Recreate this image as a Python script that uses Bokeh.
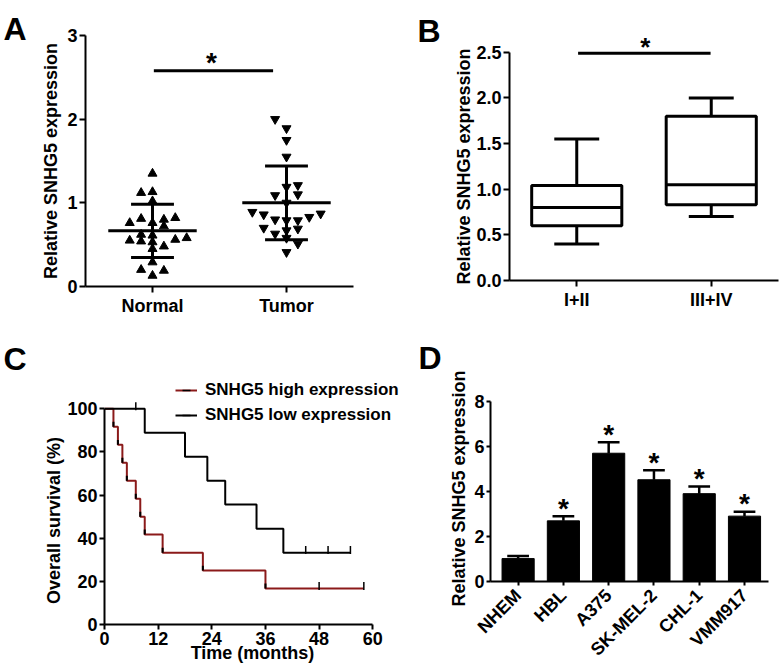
import math
from jinja2 import Template
from bokeh.plotting import figure
from bokeh.models import FixedTicker, Label, Legend, LegendItem, Range1d
from bokeh.embed import file_html
from bokeh.resources import INLINE
from bokeh.core.properties import value

FONT = "Liberation Sans"

# ---------------- Panel A data ----------------
groups_a = ["Normal", "Tumor"]
normal_vals = [1.35, 1.12, 1.13, 1.02, 0.76, 0.81, 0.76, 0.80, 0.82, 0.72, 0.55,
               0.62, 0.54, 0.61, 0.53, 0.56, 0.58, 0.45, 0.48, 0.29, 0.20, 0.13, 0.19]
normal_slot = [0, -1, 0, 0, -2, -1, 0, 1, 2, 1, -2, -1, -1, 0, 0, 2, 3, 0, 1, 0, -1, 0, 1]
tumor_vals = [2.00, 1.89, 1.75, 1.55, 1.19, 1.21, 1.09, 1.10, 1.00, 0.89, 0.86, 0.80,
              0.79, 0.79, 0.83, 0.87, 0.70, 0.67, 0.69, 0.63, 0.58, 0.51, 0.41]
tumor_slot = [-1, 0, 0, 0, 0, 1, -1, 1, 0, -3, -2, -1, 0, 1, 2, 3, -2, 0, 1, -1, 0, 1, 0]
mean_a = [0.665, 1.00]
sd_a = [0.317, 0.44]
sig_a = 2.58

# ---------------- Panel B data ----------------
groups_b = ["I+II", "III+IV"]
b_low = [0.40, 0.70]
b_q1 = [0.60, 0.83]
b_med = [0.80, 1.05]
b_q3 = [1.04, 1.80]
b_high = [1.55, 2.00]
sig_b = 2.49

# ---------------- Panel C data ----------------
t_high = [0, 2, 3, 4, 5, 7, 8, 9, 13, 22, 36, 58]
s_high = [100, 91.7, 83.3, 75, 66.7, 58.3, 50, 41.7, 33.3, 25, 16.7, 16.7]
cens_high_t = [48, 58]
cens_high_s = [16.7, 16.7]
t_low = [0, 9, 18, 23, 27, 34, 40, 55]
s_low = [100, 88.9, 77.8, 66.7, 55.6, 44.4, 33.3, 33.3]
cens_low_t = [7, 45, 50, 55]
cens_low_s = [100, 33.3, 33.3, 33.3]
legend_labels = ["SNHG5 high expression", "SNHG5 low expression"]

# ---------------- Panel D data ----------------
cells = ["NHEM", "HBL", "A375", "SK-MEL-2", "CHL-1", "VMM917"]
d_mean = [1.02, 2.70, 5.71, 4.53, 3.91, 2.91]
d_err = [0.12, 0.21, 0.49, 0.42, 0.32, 0.20]
d_sig = [False, True, True, True, True, True]

# ---------------- Panel texts ----------------
panel_letters = ["A", "B", "C", "D"]
ylabel_expr = "Relative SNHG5 expression"
ylabel_surv = "Overall survival (%)"
xlabel_time = "Time (months)"

RED = "#8b1a1a"
FS = "18px"


def base_fig(name, w, h, xr, yr, l, r, t, b):
    p = figure(name=name, width=w, height=h, x_range=xr, y_range=yr,
               min_border_left=l, min_border_right=r, min_border_top=t, min_border_bottom=b,
               output_backend="svg", toolbar_location=None)
    p.border_fill_color = None
    p.background_fill_color = None
    return p


def style(p, tick_out=6):
    for ax in p.axis:
        ax.axis_line_width = 2
        ax.axis_line_color = "black"
        ax.major_tick_line_width = 2
        ax.major_tick_out = tick_out
        ax.major_tick_in = 0
        ax.minor_tick_line_color = None
        ax.major_label_text_font = FONT
        ax.major_label_text_font_style = "bold"
        ax.major_label_text_font_size = FS
        ax.major_label_text_color = "black"
        ax.axis_label_text_font = FONT
        ax.axis_label_text_font_style = "bold"
        ax.axis_label_text_font_size = FS
        ax.axis_label_text_color = "black"
        ax.major_label_standoff = 2
    p.xgrid.visible = False
    p.ygrid.visible = False
    p.outline_line_color = None


# ================= Panel A (canvas 0,0 390x320) =================
pA = base_fig("pA", 390, 320, Range1d(-0.5, 1.5), Range1d(0, 3), 85, 37, 35, 34)
style(pA)
slot_w = 0.085
pA.scatter([0 + s * slot_w for s in normal_slot], normal_vals, marker="triangle",
           size=9, color="black")
pA.scatter([1 + s * slot_w for s in tumor_slot], tumor_vals, marker="inverted_triangle",
           size=9, color="black")
xs = [0, 1]
pA.segment(x0=[x - 0.33 for x in xs], x1=[x + 0.33 for x in xs], y0=mean_a, y1=mean_a,
           line_width=3, color="black")
lo = [m - s for m, s in zip(mean_a, sd_a)]
hi = [m + s for m, s in zip(mean_a, sd_a)]
pA.segment(x0=xs, x1=xs, y0=lo, y1=hi, line_width=3, color="black")
pA.segment(x0=[x - 0.16 for x in xs], x1=[x + 0.16 for x in xs], y0=lo, y1=lo, line_width=3, color="black")
pA.segment(x0=[x - 0.16 for x in xs], x1=[x + 0.16 for x in xs], y0=hi, y1=hi, line_width=3, color="black")
pA.segment(x0=[0.01], x1=[0.9], y0=[sig_a], y1=[sig_a], line_width=3, color="black")
pA.text(x=[0.44], y=[sig_a], text=["*"], text_font=value(FONT), text_font_style="bold",
        text_font_size="28px", text_align="center", text_baseline="alphabetic", y_offset=-8)
pA.xaxis.ticker = FixedTicker(ticks=[0, 1])
pA.xaxis.major_label_overrides = {0: groups_a[0], 1: groups_a[1]}
pA.xaxis.major_label_standoff = 3
pA.yaxis.ticker = FixedTicker(ticks=[0, 1, 2, 3])
pA.yaxis.axis_label = ylabel_expr
pA.yaxis.axis_label_standoff = 3

# ================= Panel B (canvas 390,0 393x320) =================
pB = base_fig("pB", 393, 320, Range1d(-0.5, 1.5), Range1d(0, 2.738), 119, 5, 30, 40)
style(pB)
bx = [0, 1]
pB.quad(left=[x - 0.335 for x in bx], right=[x + 0.335 for x in bx], bottom=b_q1, top=b_q3,
        fill_color="white", line_color="black", line_width=3)
pB.segment(x0=[x - 0.335 for x in bx], x1=[x + 0.335 for x in bx], y0=b_med, y1=b_med,
           line_width=3, color="black")
pB.segment(x0=bx, x1=bx, y0=b_q3, y1=b_high, line_width=3, color="black")
pB.segment(x0=bx, x1=bx, y0=b_low, y1=b_q1, line_width=3, color="black")
pB.segment(x0=[x - 0.167 for x in bx], x1=[x + 0.167 for x in bx], y0=b_high, y1=b_high,
           line_width=3, color="black")
pB.segment(x0=[x - 0.167 for x in bx], x1=[x + 0.167 for x in bx], y0=b_low, y1=b_low,
           line_width=3, color="black")
pB.segment(x0=[0.01], x1=[0.995], y0=[sig_b], y1=[sig_b], line_width=3, color="black")
pB.text(x=[0.51], y=[sig_b], text=["*"], text_font=value(FONT), text_font_style="bold",
        text_font_size="26px", text_align="center", text_baseline="alphabetic", y_offset=-6)
pB.xaxis.ticker = FixedTicker(ticks=[0, 1])
pB.xaxis.major_label_overrides = {0: groups_b[0], 1: groups_b[1]}
pB.xaxis.major_label_standoff = 3
pB.yaxis.ticker = FixedTicker(ticks=[0, 0.5, 1.0, 1.5, 2.0, 2.5])
pB.yaxis.major_label_overrides = {0: "0.0", 0.5: "0.5", 1.0: "1.0", 1.5: "1.5", 2.0: "2.0", 2.5: "2.5"}
pB.yaxis.bounds = (0, 2.5)

# ================= Panel C (canvas 0,320 400x349) =================
pC = base_fig("pC", 400, 349, Range1d(0, 66.2), Range1d(0, 115), 104, 0, 56, 45)
style(pC, tick_out=5)
r_high = pC.step(t_high, s_high, mode="after", line_color=RED, line_width=2)
ev_t = t_high[1:-1]
ev_s = s_high[1:-1]
pC.segment(x0=ev_t, x1=ev_t, y0=ev_s, y1=[s + 2.3 for s in ev_s], color="black", line_width=2)
r_low = pC.step(t_low, s_low, mode="after", line_color="black", line_width=2)
c_high = pC.scatter(cens_high_t, [s + 1.2 for s in cens_high_s], marker="dash", angle=math.pi / 2,
                    size=8, line_color="black", line_width=1.5)
c_low = pC.scatter(cens_low_t, [s + 1.2 for s in cens_low_s], marker="dash", angle=math.pi / 2,
                   size=8, line_color="black", line_width=1.5)
pC.xaxis.ticker = FixedTicker(ticks=[0, 12, 24, 36, 48, 60])
pC.xaxis.bounds = (0, 60)
pC.yaxis.ticker = FixedTicker(ticks=[0, 20, 40, 60, 80, 100])
pC.yaxis.bounds = (0, 100)
pC.xaxis.axis_label = xlabel_time
pC.xaxis.axis_label_standoff = -5
leg = Legend(items=[LegendItem(label=legend_labels[0], renderers=[r_high, c_high]),
                    LegendItem(label=legend_labels[1], renderers=[r_low, c_low])],
             location=(71, 199), glyph_width=22, glyph_height=20, label_height=20,
             label_standoff=8, spacing=5, padding=0, margin=0, border_line_color=None,
             background_fill_alpha=0, label_text_font=FONT, label_text_font_style="bold",
             label_text_font_size="17px", label_text_color="black")
pC.add_layout(leg)

# ================= Panel D (canvas 390,320 393x349) =================
pD = base_fig("pD", 393, 349, Range1d(-0.61, 5.53), Range1d(0, 8.28), 100, 15, 75, 87)
style(pD, tick_out=4)
dx = list(range(len(cells)))
d_top = [m + e for m, e in zip(d_mean, d_err)]
pD.segment(x0=dx, x1=dx, y0=d_mean, y1=d_top, line_width=2.5, color="black")
pD.segment(x0=[x - 0.24 for x in dx], x1=[x + 0.24 for x in dx], y0=d_top, y1=d_top,
           line_width=2.5, color="black")
pD.vbar(x=dx, top=d_mean, width=0.71, fill_color="black", line_color="black")
sx = [x for x, s in zip(dx, d_sig) if s]
sy = [t for t, s in zip(d_top, d_sig) if s]
pD.text(x=sx, y=sy, text=["*"] * len(sx), text_font=value(FONT), text_font_style="bold",
        text_font_size="28px", text_align="center", text_baseline="alphabetic", y_offset=-8)
pD.xaxis.ticker = FixedTicker(ticks=dx)
pD.xaxis.major_label_overrides = {i: c for i, c in enumerate(cells)}
pD.xaxis.major_label_orientation = math.pi / 4
pD.xaxis.major_label_standoff = 7
pD.yaxis.ticker = FixedTicker(ticks=[0, 2, 4, 6, 8])
pD.yaxis.bounds = (0, 8)
pD.yaxis.axis_label = ylabel_expr
pD.yaxis.axis_label_standoff = 2

# ================= Overlay: panel letters and side labels (page pixels) =================
pO = figure(name="pO", width=783, height=669, x_range=Range1d(0, 783), y_range=Range1d(669, 0),
            min_border=0, x_axis_type=None, y_axis_type=None,
            output_backend="svg", toolbar_location=None)
pO.border_fill_color = None
pO.background_fill_color = None
pO.outline_line_color = None
pO.xgrid.visible = False
pO.ygrid.visible = False
letter_pos = [(3, 28), (417, 30), (3, 358), (418, 357)]
for txt, (lx, ly) in zip(panel_letters, letter_pos):
    pO.add_layout(Label(x=lx, y=ly, text=txt, text_font=FONT, text_font_style="bold",
                        text_font_size="32px", text_color="black", text_baseline="alphabetic"))
for txt, (lx, ly) in [(ylabel_expr, (463, 166)), (ylabel_surv, (53, 520))]:
    pO.add_layout(Label(x=lx, y=ly, text=txt, angle=math.pi / 2, text_font=FONT,
                        text_font_style="bold", text_font_size=FS, text_color="black",
                        text_align="center", text_baseline="middle"))

TEMPLATE = Template("""{% from macros import embed %}
<!DOCTYPE html>
<html lang="en">
<head>
<meta charset="utf-8">
<title>Bokeh Plot</title>
<style>html, body { box-sizing: border-box; margin: 0; padding: 0; }</style>
{{ bokeh_css if bokeh_css }}
{{ bokeh_js if bokeh_js }}
</head>
<body>
<div style="position:relative;width:783px;height:669px;overflow:hidden;">
<div style="position:absolute;left:0px;top:0px;">{{ embed(roots.pA) }}</div>
<div style="position:absolute;left:390px;top:0px;">{{ embed(roots.pB) }}</div>
<div style="position:absolute;left:0px;top:320px;">{{ embed(roots.pC) }}</div>
<div style="position:absolute;left:390px;top:320px;">{{ embed(roots.pD) }}</div>
<div style="position:absolute;left:0px;top:0px;pointer-events:none;">{{ embed(roots.pO) }}</div>
</div>
{{ plot_script }}
</body>
</html>
""")

open("out.html", "w").write(file_html([pA, pB, pC, pD, pO], INLINE, template=TEMPLATE))
